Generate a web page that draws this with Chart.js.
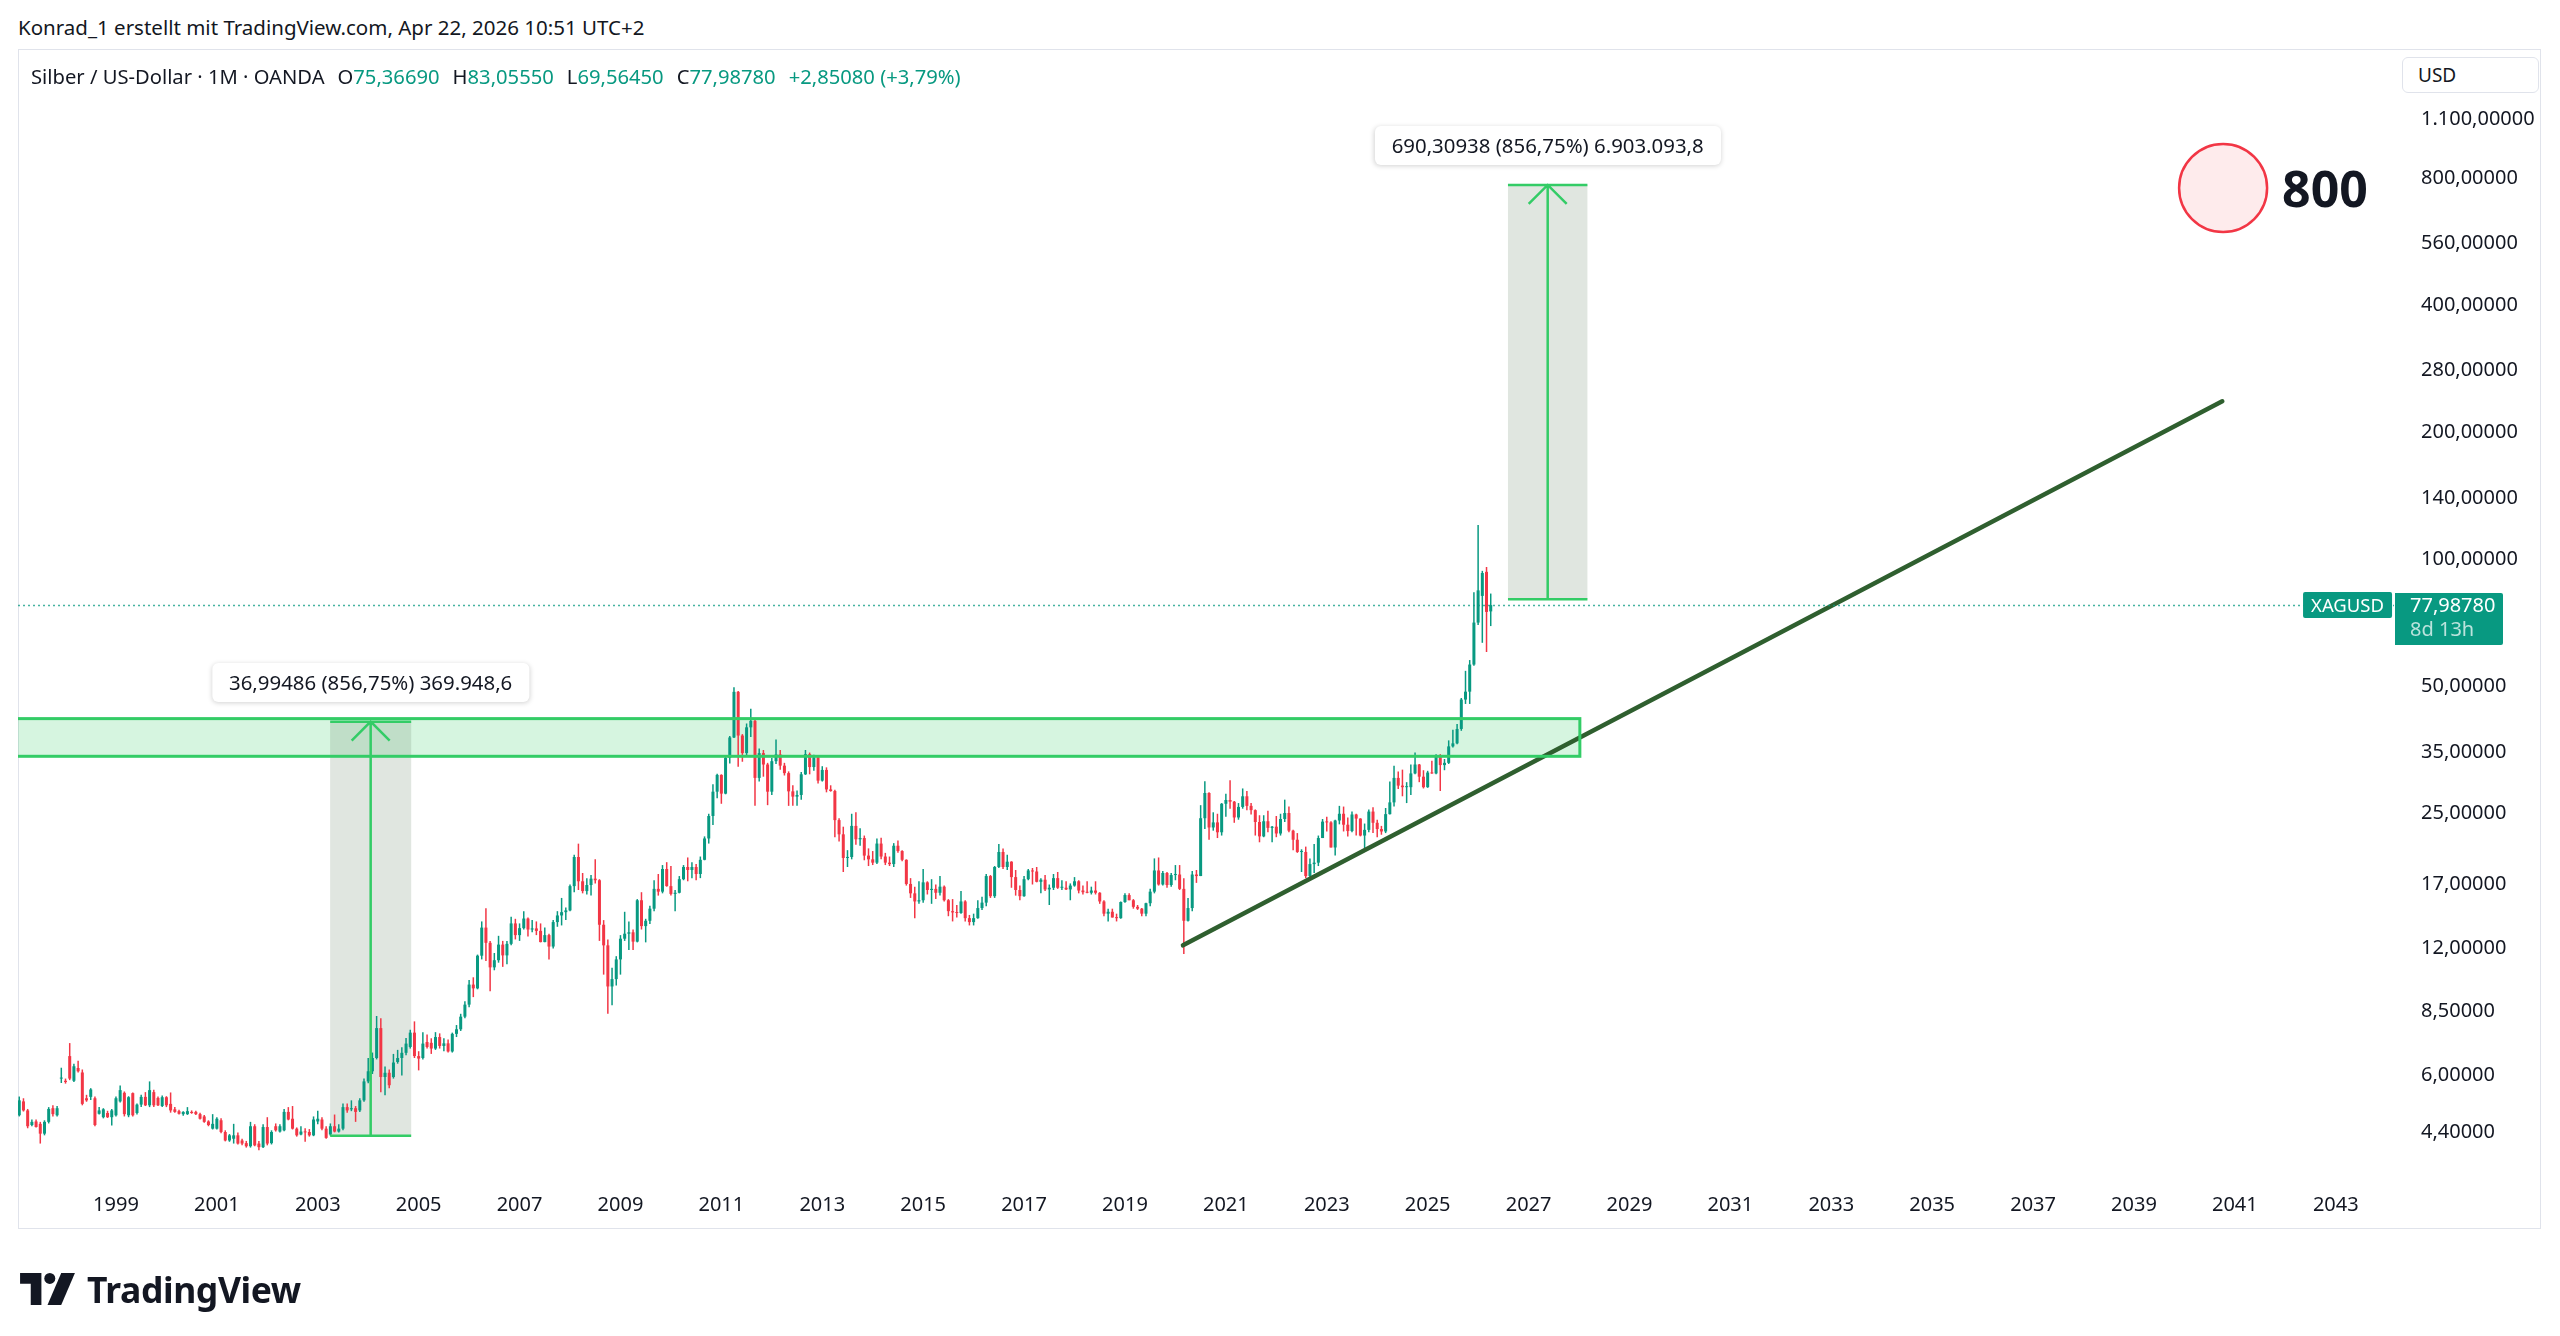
<!DOCTYPE html>
<html><head><meta charset="utf-8">
<script src="https://cdn.jsdelivr.net/npm/chart.js@4.4.1/dist/chart.umd.min.js"></script>
<style>
html,body{margin:0;padding:0;background:#fff;width:2560px;height:1336px;overflow:hidden;font-family:'Noto Sans',sans-serif;color:#131722}
#wrap{position:relative;width:2560px;height:1336px}
canvas{position:absolute;left:0;top:0}
.abs{position:absolute;white-space:nowrap}
#frame{position:absolute;left:18px;top:49px;width:2523px;height:1180px;border:1px solid #e0e3eb;box-sizing:border-box}
#hdr{left:18px;top:13px;font-size:20.5px;line-height:28px}
#legend{left:31px;top:62px;font-size:20.2px;line-height:28px;z-index:3}
#legend .g{color:#089981}
#legend .sp{margin-left:13px}
#usd{left:2402px;top:57px;width:137px;height:36px;border:1px solid #e0e3eb;border-radius:6px;box-sizing:border-box;font-size:19px;line-height:34px;padding-left:15px;background:#fff;z-index:3}
.mlabel{position:absolute;transform:translate(-50%,-100%);background:#fff;border-radius:6px;box-shadow:0 1px 5px rgba(0,0,0,0.18);font-size:20.4px;padding:0 17px;height:39px;line-height:39px;white-space:nowrap;z-index:3}
#target{position:absolute;transform:translateY(-50%);font-size:50px;font-weight:700;line-height:58px;z-index:3}
#sym{position:absolute;transform:translate(-100%,-50%);background:#089981;color:#fff;font-size:18.5px;height:26px;line-height:26px;padding:0 8px;border-radius:2px;z-index:3}
#pbox{position:absolute;background:#089981;color:#fff;font-size:20px;line-height:24px;padding:0 14px 4px 15px;width:79px;border-radius:0 2px 2px 0;z-index:3}
#pbox .t{color:rgba(255,255,255,0.72)}
#logo{left:20px;top:1265px;display:flex;align-items:center}
#logo span{font-size:35.5px;font-weight:700;margin-left:12px;letter-spacing:-0.4px;color:#131722}
</style></head>
<body><div id="wrap">
<div id="hdr" class="abs">Konrad_1 erstellt mit TradingView.com, Apr 22, 2026 10:51 UTC+2</div>
<div id="frame"></div>
<canvas id="c" width="2560" height="1336"></canvas>
<div id="legend" class="abs"></div>
<div id="usd" class="abs">USD</div>
<div id="lblLow" class="mlabel">36,99486 (856,75%) 369.948,6</div>
<div id="lblHigh" class="mlabel">690,30938 (856,75%) 6.903.093,8</div>
<div id="target">800</div>
<div id="sym">XAGUSD</div>
<div id="pbox"><div id="pval"></div><div class="t">8d 13h</div></div>
<div id="logo" class="abs"><svg width="55" height="32" viewBox="0 0 36 21"><path d="M0 0H14V21H7V7H0Z" fill="#131722"/><circle cx="19.5" cy="3.6" r="3.6" fill="#131722"/><path d="M27 0H36L27 21H18Z" fill="#131722"/></svg><span>TradingView</span></div>
</div>
<script>
// monthly candles, Jan 1997 .. Apr 2026 (index 0 = Jan 1997)
const startYear = 1997;
const opens = [
4.78,4.83,5.21,4.96,4.58,4.67,4.61,4.37,4.66,5.02,4.83,5.90,
5.83,6.67,5.83,6.25,6.10,5.30,5.34,5.30,4.87,4.78,4.89,4.78,
4.83,5.21,5.46,4.83,5.45,4.89,5.12,5.34,5.10,5.48,5.31,5.08,
5.33,5.14,4.99,4.94,4.86,4.86,4.92,4.92,4.86,4.80,4.67,4.49,
4.49,4.70,4.41,4.21,4.25,4.33,4.21,4.15,4.08,4.55,4.14,4.06,
4.53,4.15,4.55,4.42,4.45,4.92,4.74,4.49,4.35,4.42,4.41,4.33,
4.67,4.72,4.49,4.35,4.55,4.42,4.49,5.05,4.99,5.02,4.96,5.24,
5.81,6.14,6.60,7.77,5.95,6.09,5.95,6.46,6.60,6.79,7.01,7.58,
6.67,6.60,7.20,7.17,6.95,7.40,7.05,7.15,6.84,7.53,7.72,8.27,
8.83,9.85,9.65,11.53,13.44,12.37,10.82,11.25,12.25,11.55,12.30,13.75,
12.90,13.40,14.12,13.30,13.38,13.20,12.42,12.90,12.12,13.85,14.36,14.62,
14.76,16.85,19.75,17.30,16.40,16.95,17.55,17.40,13.65,12.20,9.75,10.15,
11.30,12.65,13.00,13.10,12.45,15.60,13.55,13.95,14.90,16.60,16.35,18.50,
16.85,16.15,16.25,17.50,18.70,18.40,18.70,18.00,19.45,21.85,24.70,28.20,
30.90,27.90,33.90,37.90,48.60,38.30,34.80,40.05,41.50,30.40,34.80,32.70,
28.20,33.30,34.55,32.50,31.20,28.25,27.45,27.70,31.00,34.60,32.25,34.00,
29.95,31.75,28.55,28.30,24.15,22.35,19.65,19.75,23.40,21.75,21.90,19.90,
19.50,19.15,21.25,19.80,19.15,19.00,21.00,20.40,19.45,17.05,16.20,15.50,
15.60,17.20,16.50,16.60,16.25,16.80,15.60,14.70,14.60,14.55,15.50,14.15,
13.85,14.15,14.95,15.40,17.80,15.95,18.70,20.30,18.70,19.25,17.70,16.50,
15.95,17.50,18.35,18.25,17.25,17.45,16.55,16.70,17.60,16.70,16.70,16.55,
16.90,17.30,16.45,16.30,16.25,16.45,16.25,15.50,14.50,14.65,14.20,14.15,
15.45,16.05,15.60,15.05,14.90,14.50,15.35,16.35,18.35,17.00,18.10,16.95,
17.90,17.95,16.60,13.95,14.95,17.95,17.80,24.40,28.00,23.20,23.85,22.60,
26.40,26.95,26.70,24.50,25.95,27.50,26.10,25.50,23.90,22.10,24.00,23.15,
23.30,22.45,24.30,25.10,22.80,21.70,20.30,20.30,17.80,19.00,19.15,21.90,
23.95,23.85,20.80,24.10,25.00,23.55,22.75,24.90,24.35,22.20,22.90,25.30,
23.80,23.00,22.70,24.95,26.60,30.40,29.15,28.90,28.90,31.15,32.70,30.60,
28.90,31.30,31.15,34.10,32.60,33.00,36.10,36.70,39.70,46.60,48.65,56.40,
70.90,82.00,93.50,75.3669];
const highs = [
4.95,5.35,5.30,5.00,4.72,4.72,4.66,4.70,5.05,5.10,5.08,6.26,
5.90,7.16,6.40,6.50,6.20,5.40,5.60,5.35,5.05,5.02,4.95,5.00,
5.35,5.68,5.50,5.36,5.47,5.15,5.40,5.48,5.81,5.55,5.35,5.38,
5.36,5.47,5.05,4.98,4.94,5.05,4.96,4.95,4.90,4.84,4.70,4.86,
4.78,4.75,4.45,4.36,4.61,4.40,4.25,4.20,4.66,4.60,4.20,4.60,
4.78,4.45,4.62,4.60,5.00,5.05,5.08,4.52,4.55,4.50,4.48,4.80,
4.95,4.78,4.55,4.62,4.85,4.60,5.15,5.15,5.24,5.08,5.30,5.90,
6.60,6.80,8.30,8.20,6.30,6.20,6.75,6.90,7.00,7.36,7.70,8.06,
6.85,7.60,7.50,7.35,7.60,7.55,7.35,7.30,7.58,7.90,8.40,9.00,
10.10,10.25,11.60,13.90,14.94,12.50,11.70,12.85,12.50,12.50,14.25,14.10,
13.75,14.70,14.20,14.00,13.90,13.75,13.45,13.00,14.00,14.70,15.80,15.00,
17.00,20.00,21.24,18.10,17.60,17.90,19.50,17.50,14.00,12.60,10.80,11.50,
12.90,14.65,13.90,13.30,15.70,16.30,14.10,15.15,17.40,18.00,18.90,19.20,
18.80,16.50,17.80,18.90,19.70,19.20,19.00,19.80,22.10,25.00,29.35,31.10,
31.00,34.10,38.20,49.80,48.80,38.60,40.90,44.30,42.00,35.70,35.40,33.00,
33.90,37.50,35.40,33.00,31.50,29.20,28.40,31.40,35.40,34.90,34.50,34.20,
32.40,32.20,29.20,28.50,24.40,23.30,20.50,25.00,25.20,23.10,22.20,20.70,
20.40,21.85,21.95,20.20,19.80,21.30,21.60,20.50,19.50,17.60,16.80,17.30,
18.50,17.30,17.50,17.00,17.80,16.90,15.70,15.70,15.20,16.40,15.60,14.40,
14.50,15.60,15.90,18.00,17.90,18.80,21.20,20.70,20.00,19.30,18.40,16.90,
17.80,18.50,18.60,18.70,17.60,17.90,17.00,18.00,18.20,17.40,17.30,17.10,
17.70,17.40,16.90,17.30,16.80,17.30,16.30,15.60,14.90,14.90,14.50,15.50,
16.20,16.20,15.70,15.20,14.95,15.40,16.60,19.60,19.70,18.30,18.20,18.10,
18.90,18.90,17.60,15.80,18.30,18.40,26.20,29.85,28.10,25.20,25.00,26.50,
27.90,30.00,26.80,26.50,28.70,28.30,26.50,25.60,24.80,24.80,25.40,23.40,
24.70,25.00,27.00,26.00,22.90,22.50,20.60,20.90,19.60,21.20,22.20,24.30,
24.60,24.00,24.20,26.10,26.00,24.50,25.30,25.00,24.40,23.70,25.60,25.90,
24.20,23.40,25.80,29.80,32.50,31.50,31.80,29.70,32.70,34.90,32.80,31.70,
31.60,33.40,34.60,34.60,33.70,37.30,39.50,40.80,47.00,54.50,57.80,83.60,
120.70,94.00,96.00,83.0555];
const lows = [
4.70,4.80,4.93,4.50,4.55,4.52,4.14,4.33,4.62,4.80,4.80,5.76,
5.74,5.85,5.79,6.10,5.10,5.20,5.25,4.55,4.85,4.75,4.76,4.57,
4.80,5.18,4.80,4.78,4.80,4.85,5.05,5.08,5.05,5.05,5.08,5.05,
5.05,4.90,4.90,4.85,4.82,4.84,4.87,4.84,4.72,4.64,4.55,4.47,
4.47,4.38,4.19,4.18,4.14,4.12,4.10,4.05,4.05,4.08,3.99,4.04,
4.10,4.12,4.42,4.40,4.43,4.70,4.47,4.30,4.33,4.18,4.30,4.31,
4.60,4.45,4.25,4.32,4.40,4.40,4.45,4.90,4.94,4.66,4.92,5.20,
5.75,6.05,6.55,5.48,5.39,5.60,5.90,6.40,6.00,6.70,6.95,6.60,
6.17,6.55,6.95,6.75,6.90,6.95,6.85,6.80,6.80,7.40,7.65,8.20,
8.70,9.20,9.60,11.30,11.20,9.50,10.65,11.10,10.85,11.00,12.20,12.60,
12.50,13.30,12.80,13.10,12.90,12.40,12.40,11.30,12.00,13.50,13.60,14.00,
14.70,16.30,16.50,16.20,16.10,16.00,17.10,12.50,10.40,8.40,8.80,9.80,
10.40,12.50,11.90,11.90,12.40,13.30,12.40,13.70,14.70,16.00,16.20,16.80,
16.00,14.70,16.20,17.40,17.30,17.60,17.40,17.60,19.40,21.25,23.50,27.20,
26.40,27.80,32.90,37.80,32.30,33.20,34.20,38.00,26.10,29.80,30.60,26.20,
27.70,32.80,31.80,30.80,26.10,26.10,26.10,27.00,30.90,31.00,31.60,29.50,
29.80,28.10,28.20,22.00,21.50,18.20,18.70,19.50,21.10,21.00,19.40,18.80,
18.90,19.00,19.50,18.90,18.80,18.70,20.20,19.30,16.90,15.80,14.15,15.30,
15.40,16.10,15.30,15.70,16.00,15.50,14.30,13.90,14.20,14.50,13.90,13.60,
13.60,14.10,14.80,15.10,15.80,15.80,18.60,18.50,18.40,16.70,16.00,15.60,
15.90,17.40,17.00,17.20,16.20,16.40,15.20,16.50,16.60,16.50,16.50,15.60,
16.80,16.20,16.10,16.20,16.10,16.10,15.30,14.30,13.90,14.20,13.90,14.10,
15.40,15.60,14.90,14.80,14.30,14.30,15.10,16.20,16.90,16.90,16.70,16.80,
17.40,16.50,11.64,13.90,14.70,17.15,17.80,23.00,21.70,22.80,21.90,22.20,
24.60,25.70,23.80,24.20,25.70,25.50,24.90,22.20,21.40,22.00,22.60,21.40,
22.00,22.20,23.90,22.60,20.50,20.20,18.20,17.60,17.60,18.10,18.80,21.90,
22.70,20.80,19.90,23.60,22.70,22.10,22.60,22.20,22.10,20.70,22.60,22.50,
22.00,22.30,22.50,24.90,26.00,28.60,27.50,26.50,27.70,31.00,29.70,28.70,
28.80,31.10,31.00,28.30,31.70,32.80,35.90,36.50,39.30,45.50,45.50,56.00,
70.00,63.50,60.40,69.5645];
const closes = [
4.83,5.24,4.96,4.55,4.66,4.53,4.37,4.66,5.00,4.86,5.02,5.93,
5.79,5.90,6.31,6.14,5.14,5.24,5.56,4.58,4.96,4.99,4.78,4.96,
5.30,5.54,4.86,5.33,4.83,5.12,5.34,5.10,5.54,5.10,5.10,5.33,
5.10,4.96,4.92,4.87,4.92,4.94,4.89,4.86,4.74,4.66,4.58,4.61,
4.74,4.41,4.21,4.33,4.33,4.14,4.14,4.08,4.55,4.10,4.06,4.53,
4.14,4.41,4.45,4.55,4.92,4.72,4.49,4.33,4.42,4.40,4.33,4.72,
4.74,4.49,4.27,4.55,4.42,4.49,5.05,4.96,5.02,4.92,5.24,5.81,
6.14,6.60,7.77,5.95,6.09,5.69,6.44,6.60,6.79,7.14,7.58,6.67,
6.58,7.14,7.01,6.95,7.40,7.05,7.15,6.84,7.53,7.72,8.27,8.83,
9.85,9.65,11.53,13.44,12.37,10.82,11.25,12.25,11.55,12.30,13.75,12.90,
13.40,14.12,13.30,13.38,13.20,12.42,12.90,12.12,13.85,14.36,14.62,14.76,
16.85,19.75,17.30,16.40,16.95,17.55,17.40,13.65,12.20,9.75,10.15,11.30,
12.65,13.00,13.10,12.45,15.60,13.55,13.95,14.90,16.60,16.35,18.50,16.85,
16.15,16.25,17.50,18.70,18.40,18.70,18.00,19.45,21.85,24.70,28.20,30.90,
27.90,33.90,37.90,48.60,38.30,34.80,40.05,41.50,30.40,34.80,32.70,28.20,
33.30,34.55,32.50,31.20,28.25,27.45,27.70,31.00,34.60,32.25,34.00,29.95,
31.75,28.55,28.30,24.15,22.35,19.65,19.75,23.40,21.75,21.90,19.90,19.50,
19.15,21.25,19.80,19.15,19.00,21.00,20.40,19.45,17.05,16.20,15.50,15.60,
17.20,16.50,16.60,16.25,16.80,15.60,14.70,14.60,14.55,15.50,14.15,13.85,
14.15,14.95,15.40,17.80,15.95,18.70,20.30,18.70,19.25,17.70,16.50,15.95,
17.50,18.35,18.25,17.25,17.45,16.55,16.70,17.60,16.70,16.70,16.55,16.90,
17.30,16.45,16.30,16.25,16.45,16.25,15.50,14.50,14.65,14.20,14.15,15.45,
16.05,15.60,15.05,14.90,14.50,15.35,16.35,18.35,17.00,18.10,16.95,17.90,
17.95,16.60,13.95,14.95,17.95,17.80,24.40,28.00,23.20,23.85,22.60,26.40,
26.95,26.70,24.50,25.95,27.50,26.10,25.50,23.90,22.10,24.00,23.15,23.30,
22.45,24.30,25.10,22.80,21.70,20.30,20.30,17.80,19.00,19.15,21.90,23.95,
23.85,20.80,24.10,25.00,23.55,22.75,24.90,24.35,22.20,22.90,25.30,23.80,
23.00,22.70,24.95,26.60,30.40,29.15,28.90,28.90,31.15,32.70,30.60,28.90,
31.30,31.15,34.10,32.60,33.00,36.10,36.70,39.70,46.60,48.65,56.40,70.90,
84.50,92.90,75.1370,77.9878];

// axis ticks
const yearLabels = [1999,2001,2003,2005,2007,2009,2011,2013,2015,2017,2019,2021,2023,2025,2027,2029,2031,2033,2035,2037,2039,2041,2043];
const priceTicks = [4.4,6,8.5,12,17,25,35,50,100,140,200,280,400,560,800,1100];

// drawings (month index, price)
const zoneMonths = [0, 372.2];
const zonePrices = [34.2, 42.0];
const lowMeasureMonths = [74.95, 94.22];
const lowMeasurePrices = [4.318, 41.3129];
const highMeasureMonths = [355.1, 374.0];
const highMeasurePrices = [80.573, 770.882];
const trendMonths = [277.8, 525.0];
const trendPrices = [12.2, 237.0];
const targetMonth = [525.2];
const targetPrice = [758];

const GREEN = '#089981', RED = '#f23645';
const toYear = m => startYear + m / 12;
const fmt = v => { const s = Math.abs(v).toFixed(5).split('.'); return (v < 0 ? '-' : '') + s[0].replace(/\B(?=(\d{3})+(?!\d))/g, '.') + ',' + s[1]; };
const n = closes.length;
const candleColors = closes.map((c, i) => c >= opens[i] ? GREEN : RED);

const drawings = {
  id: 'drawings',
  beforeDatasetsDraw(chart) {
    const {ctx, chartArea: a, scales: {x, y}} = chart;
    ctx.save();
    ctx.beginPath(); ctx.rect(a.left, a.top, a.right - a.left, a.bottom - a.top); ctx.clip();
    ctx.fillStyle = 'rgba(51,204,102,0.2)';
    const zx0 = x.getPixelForValue(zoneMonths[0]), zx1 = x.getPixelForValue(zoneMonths[1]);
    const zy0 = y.getPixelForValue(zonePrices[1]), zy1 = y.getPixelForValue(zonePrices[0]);
    ctx.fillRect(zx0, zy0, zx1 - zx0, zy1 - zy0);
    ctx.fillStyle = 'rgba(100,130,100,0.2)';
    [[lowMeasureMonths, lowMeasurePrices], [highMeasureMonths, highMeasurePrices]].forEach(([m, p]) => {
      const x0 = x.getPixelForValue(m[0]), x1 = x.getPixelForValue(m[1]);
      const y0 = y.getPixelForValue(p[1]), y1 = y.getPixelForValue(p[0]);
      ctx.fillRect(x0, y0, x1 - x0, y1 - y0);
    });
    ctx.restore();
  },
  afterDatasetsDraw(chart) {
    const {ctx, chartArea: a, scales: {x, y}} = chart;
    ctx.save();
    ctx.beginPath(); ctx.rect(a.left, a.top, a.right - a.left, a.bottom - a.top); ctx.clip();
    const py = Math.round(y.getPixelForValue(closes[n - 1])) + 0.5;
    ctx.strokeStyle = 'rgba(8,153,129,0.75)'; ctx.lineWidth = 1.5; ctx.setLineDash([2, 3]);
    ctx.beginPath(); ctx.moveTo(a.left, py); ctx.lineTo(a.right, py); ctx.stroke();
    ctx.setLineDash([]);
    ctx.strokeStyle = 'rgb(51,204,102)'; ctx.lineWidth = 3;
    const zx0 = x.getPixelForValue(zoneMonths[0]), zx1 = x.getPixelForValue(zoneMonths[1]);
    const zy0 = y.getPixelForValue(zonePrices[1]), zy1 = y.getPixelForValue(zonePrices[0]);
    ctx.strokeRect(zx0, zy0, zx1 - zx0, zy1 - zy0);
    ctx.lineWidth = 2.5;
    [[lowMeasureMonths, lowMeasurePrices], [highMeasureMonths, highMeasurePrices]].forEach(([m, p]) => {
      const x0 = x.getPixelForValue(m[0]), x1 = x.getPixelForValue(m[1]);
      const xm = (x0 + x1) / 2;
      const yt = y.getPixelForValue(p[1]), yb = y.getPixelForValue(p[0]);
      ctx.beginPath();
      ctx.moveTo(x0, yb); ctx.lineTo(x1, yb);
      ctx.moveTo(x0, yt); ctx.lineTo(x1, yt);
      ctx.moveTo(xm, yb); ctx.lineTo(xm, yt);
      ctx.moveTo(xm - 19, yt + 19); ctx.lineTo(xm, yt); ctx.lineTo(xm + 19, yt + 19);
      ctx.stroke();
    });
    ctx.restore();
  }
};

const chart = new Chart(document.getElementById('c'), {
  type: 'bar',
  data: {
    datasets: [
      { type: 'line', data: trendMonths.map((m, k) => ({x: m, y: trendPrices[k]})), borderColor: '#2f5f2f', borderWidth: 4.5, pointRadius: 0, fill: false, borderCapStyle: 'round', order: 0 },
      { type: 'scatter', data: targetMonth.map((m, k) => ({x: m, y: targetPrice[k]})), pointRadius: 44, pointHoverRadius: 44, backgroundColor: 'rgba(242,54,69,0.1)', borderColor: RED, borderWidth: 2.5, order: 0 },
      { data: opens.map((o, i) => ({x: i, y: [o, closes[i]]})), backgroundColor: candleColors, borderWidth: 0, grouped: false, maxBarThickness: 3, minBarLength: 1, order: 1 },
      { data: lows.map((l, i) => ({x: i, y: [l, highs[i]]})), backgroundColor: candleColors, borderWidth: 0, grouped: false, maxBarThickness: 1.5, order: 2 }
    ]
  },
  options: {
    responsive: false, animation: false, devicePixelRatio: 1,
    layout: {autoPadding: false, padding: {left: 18, right: 19, top: 50, bottom: 108}},
    plugins: {legend: {display: false}, tooltip: {enabled: false}},
    scales: {
      x: {
        type: 'linear', min: 0.7, max: 565.85, offset: false,
        grid: {display: false, drawTicks: false}, border: {display: false},
        afterBuildTicks: s => { s.ticks = yearLabels.map(yv => ({value: (yv - startYear) * 12})); },
        afterFit: s => { s.height = 48; s.paddingLeft = 0; s.paddingRight = 0; },
        ticks: {autoSkip: false, maxRotation: 0, padding: 13, color: '#131722', font: {family: 'Noto Sans', size: 20}, callback: v => String(Math.round(toYear(v)))}
      },
      y: {
        type: 'logarithmic', position: 'right', min: 3.394, max: 1608.8,
        grid: {display: false, drawTicks: false}, border: {display: false},
        afterBuildTicks: s => { s.ticks = priceTicks.map(v => ({value: v})); },
        afterFit: s => { s.width = 147; s.paddingTop = 0; s.paddingBottom = 0; },
        ticks: {autoSkip: false, padding: 27, crossAlign: 'near', color: '#131722', font: {family: 'Noto Sans', size: 20}, callback: v => fmt(v)}
      }
    }
  },
  plugins: [drawings]
});

// overlays positioned through the chart scales
const X = chart.scales.x, Y = chart.scales.y, A = chart.chartArea;
const last = n - 1;
const chg = closes[last] - closes[last - 1];
document.getElementById('legend').innerHTML =
  'Silber / US-Dollar · 1M · OANDA' +
  '<span class="sp">O</span><span class="g">' + fmt(opens[last]) + '</span>' +
  '<span class="sp">H</span><span class="g">' + fmt(highs[last]) + '</span>' +
  '<span class="sp">L</span><span class="g">' + fmt(lows[last]) + '</span>' +
  '<span class="sp">C</span><span class="g">' + fmt(closes[last]) + '</span>' +
  '<span class="sp g">+' + fmt(chg) + ' (+' + (chg / closes[last - 1] * 100).toFixed(2).replace('.', ',') + '%)</span>';
function put(id, l, t) { const e = document.getElementById(id); e.style.left = l + 'px'; e.style.top = t + 'px'; }
put('lblLow', X.getPixelForValue((lowMeasureMonths[0] + lowMeasureMonths[1]) / 2), Y.getPixelForValue(lowMeasurePrices[1]) - 20);
put('lblHigh', X.getPixelForValue((highMeasureMonths[0] + highMeasureMonths[1]) / 2), Y.getPixelForValue(highMeasurePrices[1]) - 20);
put('target', X.getPixelForValue(targetMonth[0]) + 44 + 15, Y.getPixelForValue(targetPrice[0]));
const pY = Y.getPixelForValue(closes[last]);
put('sym', A.right - 2, pY);
put('pbox', A.right + 1, pY - 12);
document.getElementById('pval').textContent = fmt(closes[last]);
</script>
</body></html>
